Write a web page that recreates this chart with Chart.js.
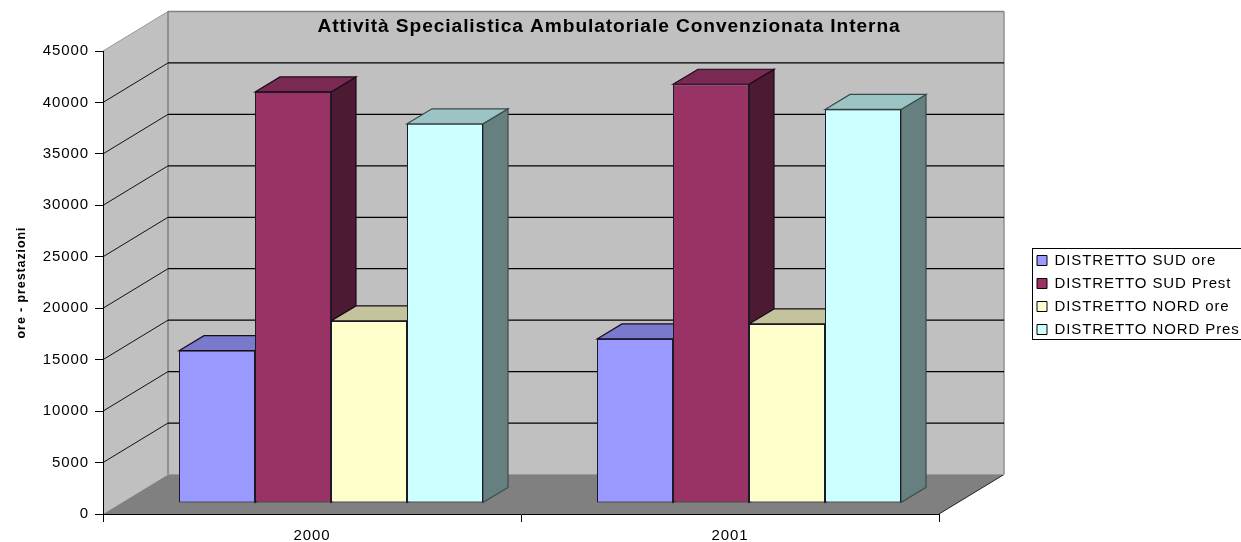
<!DOCTYPE html>
<html><head><meta charset="utf-8">
<style>html,body{margin:0;padding:0;background:#fff;overflow:hidden}canvas{display:block}</style>
<script src="https://cdn.jsdelivr.net/npm/chart.js@4"></script></head>
<body><canvas id="c" width="1241" height="542"></canvas>
<script>
const categories = ['2000', '2001'];
const seriesNames = ['DISTRETTO SUD ore', 'DISTRETTO SUD Prest', 'DISTRETTO NORD ore', 'DISTRETTO NORD Pres'];
const sudOre = [14800, 15950];
const sudPrest = [39950, 40700];
const nordOre = [17700, 17400];
const nordPrest = [36850, 38250];
const titleText = 'Attività Specialistica Ambulatoriale Convenzionata Interna';
const yTitle = 'ore - prestazioni';

const fronts = ['#9999FF', '#993366', '#FFFFCC', '#CCFFFF'];
const tops = ['#7A7ACC', '#7A2952', '#C4C49C', '#9CC4C4'];
const sides = ['#5C5C99', '#4D1A33', '#99997A', '#667F7F'];
const WALL_DX = 65, WALL_DY = 39.5;      // depth of the 3D box
const BAR_DX = 19, BAR_DY = 11;          // bar front plane inside the box
const BAR_DEPTH_X = 25, BAR_DEPTH_Y = 15;

function poly(ctx, pts, fill, stroke, lw) {
  ctx.beginPath();
  pts.forEach((p, i) => i ? ctx.lineTo(p[0], p[1]) : ctx.moveTo(p[0], p[1]));
  ctx.closePath();
  if (fill) { ctx.fillStyle = fill; ctx.fill(); }
  if (stroke) { ctx.strokeStyle = stroke; ctx.lineWidth = lw || 1; ctx.stroke(); }
}
function seg(ctx, x1, y1, x2, y2, color, lw) {
  ctx.beginPath(); ctx.moveTo(x1, y1); ctx.lineTo(x2, y2);
  ctx.strokeStyle = color; ctx.lineWidth = lw || 1; ctx.stroke();
}

const box3d = {
  id: 'box3d',
  beforeLayout(chart) {
    const lg = chart.legend;
    if (lg && !lg._wrapped) {
      const orig = lg.fit;
      lg.fit = function () { orig.call(this); this.width = chart.width - 939; };
      lg._wrapped = true;
    }
  },
  afterLayout(chart) {
    const lg = chart.legend;
    lg.left = 1029; lg.right = 1241; lg.top = 245; lg.bottom = 542;
    const t = chart.titleBlock;
    t.left = 0; t.right = 1218;
  },
  beforeDraw(chart) {
    const ctx = chart.ctx, y = chart.scales.y, a = chart.chartArea;
    ctx.letterSpacing = '0.9px';
    const L = a.left, R = a.right, B = y.getPixelForValue(0), T = y.getPixelForValue(45000);
    const bx = L + WALL_DX, dy = WALL_DY;
    ctx.save();
    poly(ctx, [[L, T], [bx, T - dy], [bx, B - dy], [L, B]], '#C0C0C0');
    poly(ctx, [[bx, T - dy], [R + WALL_DX, T - dy], [R + WALL_DX, B - dy], [bx, B - dy]], '#C0C0C0');
    poly(ctx, [[L, B], [bx, B - dy], [R + WALL_DX, B - dy], [R, B]], '#808080');
    seg(ctx, L, T, bx, T - dy, '#999999');
    seg(ctx, bx, T - dy, R + WALL_DX, T - dy, '#808080', 1.5);
    seg(ctx, bx, T - dy, bx, B - dy, '#808080', 1.5);
    seg(ctx, R + WALL_DX, T - dy, R + WALL_DX, B - dy, '#909090', 1.5);
    seg(ctx, R + WALL_DX, B - dy, R, B, '#222222');
    seg(ctx, bx, B - dy, R + WALL_DX, B - dy, '#9A9A9A');
    y.ticks.forEach(t => {
      if (t.value <= 0 || t.value >= 45000) return;
      const py = y.getPixelForValue(t.value);
      seg(ctx, L, py, bx, py - dy, '#111111');
      seg(ctx, bx, py - dy, R + WALL_DX, py - dy, '#000000', 1.2);
    });
    ctx.restore();
  },
  beforeDatasetsDraw(chart) {
    const ctx = chart.ctx;
    ctx.save();
    // bar tops and sides, left to right, behind every front face
    chart.data.datasets.forEach((ds, di) => {
      chart.getDatasetMeta(di).data.forEach(bar => {
        const x0 = bar.x - bar.width / 2 + BAR_DX, x1 = bar.x + bar.width / 2 + BAR_DX;
        const yt = bar.y - BAR_DY, yb = bar.base - BAR_DY;
        const ddx = BAR_DEPTH_X, ddy = BAR_DEPTH_Y;
        const edge = di === 3 ? '#3A4A4A' : '#1A0A1A';
        poly(ctx, [[x1, yt], [x1 + ddx, yt - ddy], [x1 + ddx, yb - ddy], [x1, yb]], sides[di], edge, 1.2);
        poly(ctx, [[x0, yt], [x0 + ddx, yt - ddy], [x1 + ddx, yt - ddy], [x1, yt]], tops[di], edge, 1.2);
      });
    });
    ctx.restore();
    ctx.save();
    ctx.translate(BAR_DX, -BAR_DY);
  },
  afterDatasetsDraw(chart) {
    chart.ctx.restore();
    const ctx = chart.ctx;
    // the legend frame runs off the right edge of the picture
    ctx.save();
    ctx.strokeStyle = '#000'; ctx.lineWidth = 1;
    ctx.strokeRect(1032.5, 248.5, 230, 91);
    ctx.restore();
  }
};

const makeSet = (i, values) => ({
  label: seriesNames[i], data: values,
  backgroundColor: fronts[i], borderColor: '#1A1A2A', borderWidth: 1, borderSkipped: false,
  clip: false, categoryPercentage: 0.7273, barPercentage: 1
});

new Chart(document.getElementById('c'), {
  type: 'bar',
  data: {
    labels: categories,
    datasets: [makeSet(0, sudOre), makeSet(1, sudPrest), makeSet(2, nordOre), makeSet(3, nordPrest)]
  },
  plugins: [box3d],
  options: {
    responsive: false, animation: false, devicePixelRatio: 1,
    layout: { padding: 0 },
    plugins: {
      tooltip: { enabled: false },
      title: {
        display: true, text: titleText, color: '#000',
        font: { family: 'Liberation Sans', size: 19.2, weight: 'bold', lineHeight: '20px' },
        padding: { top: 17, bottom: 14 }
      },
      legend: {
        display: true, position: 'right', align: 'start',
        labels: {
          color: '#000', boxWidth: 10, boxHeight: 10, padding: 8,
          font: { family: 'Liberation Sans', size: 15 },
          generateLabels: c => c.data.datasets.map((d, i) => ({
            text: d.label, fillStyle: fronts[i], strokeStyle: '#000', lineWidth: 1, datasetIndex: i
          }))
        }
      }
    },
    scales: {
      x: {
        type: 'category', offset: true,
        grid: { offset: true, drawOnChartArea: false, tickLength: 8, color: '#000' },
        border: { color: '#000', width: 1 },
        ticks: { color: '#000', padding: 5, maxRotation: 0, font: { family: 'Liberation Sans', size: 15 } },
        afterFit(s) { s.height = 28; }
      },
      y: {
        min: 0, max: 45000,
        grid: { drawOnChartArea: false, tickLength: 8, color: '#000' },
        border: { color: '#000', width: 1 },
        ticks: { stepSize: 5000, color: '#000', padding: 6, font: { family: 'Liberation Sans', size: 15 },
          callback: v => String(v) },
        title: {
          display: true, text: yTitle, color: '#000', padding: { top: 14, bottom: 0 },
          font: { family: 'Liberation Sans', size: 12.5, weight: 'bold' }
        },
        afterFit(s) { s.width = 103; }
      }
    }
  }
});
</script></body></html>
